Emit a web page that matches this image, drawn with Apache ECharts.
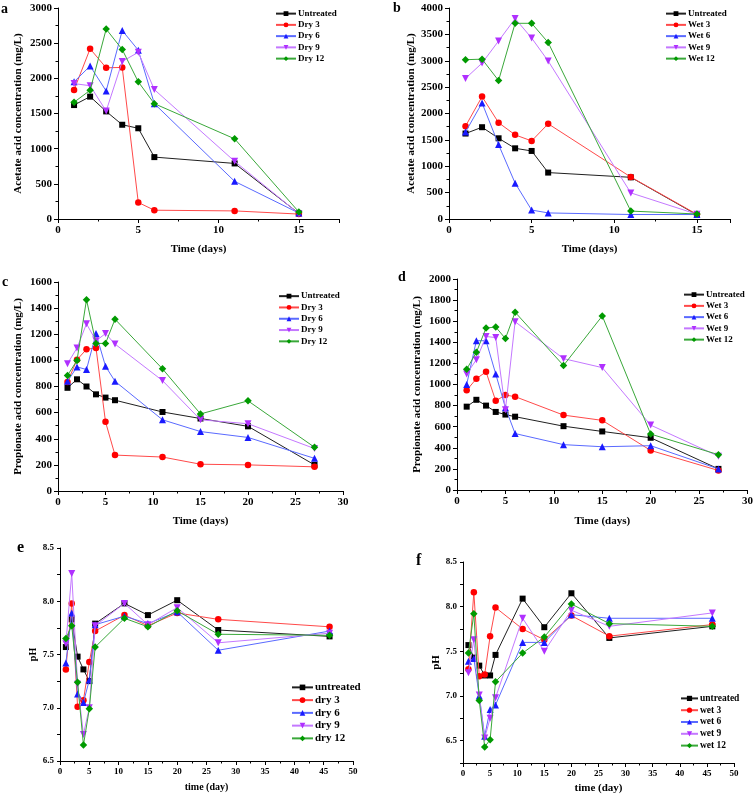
<!DOCTYPE html>
<html><head><meta charset="utf-8">
<script src="https://cdn.jsdelivr.net/npm/echarts@6/dist/echarts.min.js"></script>
<style>html,body{margin:0;padding:0;background:#fff}#c{width:756px;height:795px}</style>
</head><body><div id="c"></div>
<script>
// ---- Data ----
const daysAB = [1,2,3,4,5,6,11,15];
const daysCD = [1,2,3,4,5,6,11,15,20,27];
const daysEF = [1,2,3,4,5,6,11,15,20,27,46];

// a: acetate, dry
const aUntreated = [1620,1740,1530,1340,1290,880,790,80];
const aDry3  = [1835,2420,2150,2155,235,125,115,70];
const aDry6  = [1950,2175,1820,2680,2400,1640,535,85];
const aDry9  = [1925,1895,1535,2240,2370,1840,820,75];
const aDry12 = [1660,1830,2700,2410,1950,1640,1140,100];
// b: acetate, wet
const bUntreated = [1620,1740,1530,1340,1290,880,790,80];
const bWet3  = [1760,2320,1825,1595,1480,1805,795,90];
const bWet6  = [1650,2200,1410,680,170,115,85,85];
const bWet9  = [2665,2955,3375,3800,3430,2995,495,90];
const bWet12 = [3020,3030,2625,3710,3710,3345,150,95];
// c: propionate, dry
const cUntreated = [790,855,800,740,715,695,605,555,495,200];
const cDry3  = [835,1005,1085,1095,530,275,260,205,200,185];
const cDry6  = [840,950,930,1205,955,840,545,455,410,250];
const cDry9  = [975,1095,1280,1150,1205,1125,845,545,515,325];
const cDry12 = [885,1000,1465,1130,1130,1315,935,590,690,335];
// d: propionate, wet
const dUntreated = [790,855,800,740,715,695,605,555,495,200];
const dWet3  = [945,1055,1120,845,900,885,710,660,375,185];
const dWet6  = [1000,1415,1415,1100,780,535,430,410,420,200];
const dWet9  = [1100,1235,1455,1445,760,1595,1245,1160,615,320];
const dWet12 = [1145,1305,1535,1545,1435,1685,1180,1650,530,335];
// e: pH, dry
const eUntreated = [7.57,7.83,7.48,7.36,7.25,7.79,7.98,7.87,8.01,7.73,7.67];
const eDry3  = [7.36,7.98,7.01,7.07,7.43,7.72,7.87,7.77,7.89,7.83,7.76];
const eDry6  = [7.42,7.89,7.13,7.05,7.26,7.78,7.86,7.79,7.90,7.54,7.72];
const eDry9  = [7.60,8.26,7.22,6.75,7.00,7.77,7.98,7.78,7.94,7.61,7.70];
const eDry12 = [7.65,7.77,7.24,6.65,6.99,7.57,7.84,7.76,7.91,7.69,7.68];
// f: pH, wet
const fUntreated = [7.57,7.43,7.34,7.23,7.23,7.46,8.09,7.77,8.15,7.65,7.78];
const fWet3  = [7.30,8.16,7.22,7.24,7.67,7.99,7.75,7.63,7.90,7.67,7.80];
const fWet6  = [7.39,7.42,7.00,6.55,6.85,6.90,7.60,7.60,7.91,7.87,7.87];
const fWet9  = [7.26,7.63,7.01,6.53,6.75,6.98,7.87,7.50,7.96,7.78,7.93];
const fWet12 = [7.48,7.92,6.95,6.43,6.51,7.16,7.48,7.66,8.03,7.81,7.78];

// pH tick labels
const phLabels = [6.5,7.0,7.5,8.0,8.5];
const phTicksE = [6.5,6.75,7.0,7.25,7.5,7.75,8.0,8.25,8.5];
const phTicksF = [6.25,6.5,6.75,7.0,7.25,7.5,7.75,8.0,8.25,8.5];

// ---- Styles ----
const FONT = "'Liberation Serif','Times New Roman',serif";
const STY = [
  {c:'#000000', l:'#202020', sym:'rect', rot:0, size:6},
  {c:'#ff0000', l:'#ff4a4a', sym:'circle', rot:0, size:6.5},
  {c:'#1a1aff', l:'#5a6aff', sym:'triangle', rot:0, size:7},
  {c:'#b030ff', l:'#c478ff', sym:'triangle', rot:180, size:7},
  {c:'#009a00', l:'#3aa83a', sym:'diamond', rot:0, size:7.5}
];

const panels = [
  {names:['Untreated','Dry 3','Dry 6','Dry 9','Dry 12'], x:daysAB, ys:[aUntreated,aDry3,aDry6,aDry9,aDry12]},
  {names:['Untreated','Wet 3','Wet 6','Wet 9','Wet 12'], x:daysAB, ys:[bUntreated,bWet3,bWet6,bWet9,bWet12]},
  {names:['Untreated','Dry 3','Dry 6','Dry 9','Dry 12'], x:daysCD, ys:[cUntreated,cDry3,cDry6,cDry9,cDry12]},
  {names:['Untreated','Wet 3','Wet 6','Wet 9','Wet 12'], x:daysCD, ys:[dUntreated,dWet3,dWet6,dWet9,dWet12]},
  {names:['untreated','dry 3','dry 6','dry 9','dry 12'], x:daysEF, ys:[eUntreated,eDry3,eDry6,eDry9,eDry12]},
  {names:['untreated','wet 3','wet 6','wet 9','wet 12'], x:daysEF, ys:[fUntreated,fWet3,fWet6,fWet9,fWet12]}
];

const grids = [
  {left:58, top:8, width:281, height:211},
  {left:449, top:8, width:281, height:211},
  {left:58, top:282, width:285, height:209},
  {left:457, top:279, width:292, height:211},
  {left:60, top:548, width:293, height:213},
  {left:463, top:562, width:271, height:201}
];

const xCfg = [
  {max:17.5, interval:5, name:'Time (days)', gap:25, fs:11, nfs:11},
  {max:17, interval:5, name:'Time (days)', gap:25, fs:11, nfs:11},
  {max:30, interval:5, name:'Time (days)', gap:25, fs:11, nfs:11},
  {max:30, interval:5, name:'Time (days)', gap:26, fs:11, nfs:11},
  {max:50, interval:5, name:'time (day)', gap:21, fs:9, nfs:10},
  {max:50, interval:5, name:'time (day)', gap:20, fs:9, nfs:11}
];
const yCfg = [
  {min:0, max:3000, interval:500, name:'Acetate acid concentration (mg/L)', gap:34, fs:11, nfs:11},
  {min:0, max:4000, interval:500, name:'Acetate acid concentration (mg/L)', gap:30, fs:11, nfs:11},
  {min:0, max:1600, interval:200, name:'Propionate acid concentration (mg/L)', gap:34, fs:11, nfs:11},
  {min:0, max:2000, interval:200, name:'Propionate acid concentration (mg/L)', gap:34, fs:11, nfs:11},
  {min:6.5, max:8.5, interval:0.25, name:'pH', gap:22, fs:9, nfs:10, ph:phTicksE},
  {min:6.25, max:8.5, interval:0.25, name:'pH', gap:21, fs:9, nfs:11, ph:phTicksF}
];
const legendPos = [
  {left:275, top:8, lh:11.25, fs:9, w:20, ih:6},
  {left:665, top:8, lh:11.25, fs:9, w:20, ih:6},
  {left:278, top:290.5, lh:11.3, fs:9, w:20, ih:6},
  {left:683, top:289, lh:11.25, fs:9, w:20, ih:6},
  {left:291, top:681, lh:12.75, fs:11, w:21, ih:7},
  {left:680, top:692.5, lh:11.8, fs:9.5, w:17, ih:6.5}
];
const letters = [
  {t:'a', x:1, y:2, fs:14},
  {t:'b', x:393, y:1, fs:14},
  {t:'c', x:2, y:275, fs:14},
  {t:'d', x:398, y:270, fs:14},
  {t:'e', x:17, y:540, fs:16},
  {t:'f', x:416, y:553, fs:16}
];

const axisLineStyle = {lineStyle:{color:'#000', width:1}};
const xAxis = [], yAxis = [], series = [], legend = [];
panels.forEach((p, i) => {
  const xc = xCfg[i], yc = yCfg[i];
  xAxis.push({
    type:'value', gridIndex:i, min:0, max:xc.max, interval:xc.interval,
    name:xc.name, nameLocation:'middle', nameGap:xc.gap,
    nameTextStyle:{fontFamily:FONT, fontWeight:'bold', fontSize:xc.nfs, color:'#000', verticalAlign:'top'},
    axisLine:{show:true, onZero:false, ...axisLineStyle},
    axisTick:{show:true, length:4, lineStyle:{color:'#000'}},
    minorTick:{show:true, splitNumber:2, length:2.5, lineStyle:{color:'#000'}},
    splitLine:{show:false},
    axisLabel:{fontFamily:FONT, fontWeight:'bold', fontSize:xc.fs, color:'#000', margin:6,
      formatter:v => (Math.abs(v % xc.interval) < 1e-9 ? String(v) : '')}
  });
  const yLabel = {fontFamily:FONT, fontWeight:'bold', fontSize:yc.fs, color:'#000', margin:6, showMaxLabel:true};
  if (yc.ph) {
    yLabel.customValues = phLabels;
    yLabel.formatter = v => Number(v).toFixed(1);
  } else {
    yLabel.formatter = v => String(v);
  }
  const yTick = {show:true, length:yc.ph ? 3 : 4, lineStyle:{color:'#000'}};
  if (yc.ph) yTick.customValues = yc.ph;
  yAxis.push({
    type:'value', gridIndex:i, min:yc.min, max:yc.max, interval:yc.interval,
    name:yc.name, nameLocation:'middle', nameGap:yc.gap, nameRotate:90,
    nameTextStyle:{fontFamily:FONT, fontWeight:'bold', fontSize:yc.nfs, color:'#000'},
    axisLine:{show:true, onZero:false, ...axisLineStyle},
    axisTick:yTick,
    minorTick:{show:!yc.ph, splitNumber:2, length:2.5, lineStyle:{color:'#000'}},
    splitLine:{show:false},
    axisLabel:yLabel
  });
  p.names.forEach((n, j) => {
    const s = STY[j];
    series.push({
      type:'line', name:n, xAxisIndex:i, yAxisIndex:i,
      data:p.x.map((d, k) => [d, p.ys[j][k]]),
      symbol:s.sym, symbolRotate:s.rot, symbolSize:s.size, showAllSymbol:true,
      lineStyle:{color:s.l, width:1}, itemStyle:{color:s.c},
      animation:false, z:2+j
    });
  });
  const lp = legendPos[i];
  legend.push({
    orient:'vertical', left:lp.left, top:lp.top, itemGap:0, itemWidth:lp.w, itemHeight:lp.ih,
    data:p.names.map(n => ({name:n})),
    textStyle:{fontFamily:FONT, fontWeight:'bold', fontSize:lp.fs, color:'#000', lineHeight:lp.lh, height:lp.lh, padding:[0,0,0,-3]},
    selectedMode:false, padding:0
  });
});

const chart = echarts.init(document.getElementById('c'), null, {renderer:'canvas'});
chart.setOption({
  backgroundColor:'#fff',
  animation:false,
  grid:grids,
  xAxis, yAxis, series, legend,
  title: letters.map(l => ({
    text:l.t, left:l.x, top:l.y, padding:0,
    textStyle:{fontFamily:FONT, fontWeight:'bold', fontSize:l.fs, color:'#000'}
  }))
});

// Make sure the library-drawn "8.5" max labels of the pH axes are not auto-hidden.
try {
  const zr = chart.getZr();
  const all = zr.storage.getDisplayList(true, true);
  all.forEach(el => {
    if (el && el.style && el.style.text === '8.5') {
      el.ignore = false;
      el.invisible = false;
      if (el.style.opacity !== undefined) el.style.opacity = 1;
      let par = el.parent;
      while (par) { if (par.ignore) par.ignore = false; par = par.parent; }
      if (el.markRedraw) el.markRedraw();
    }
  });
  zr.refreshImmediately();
} catch (e) {}
</script>
</body></html>
